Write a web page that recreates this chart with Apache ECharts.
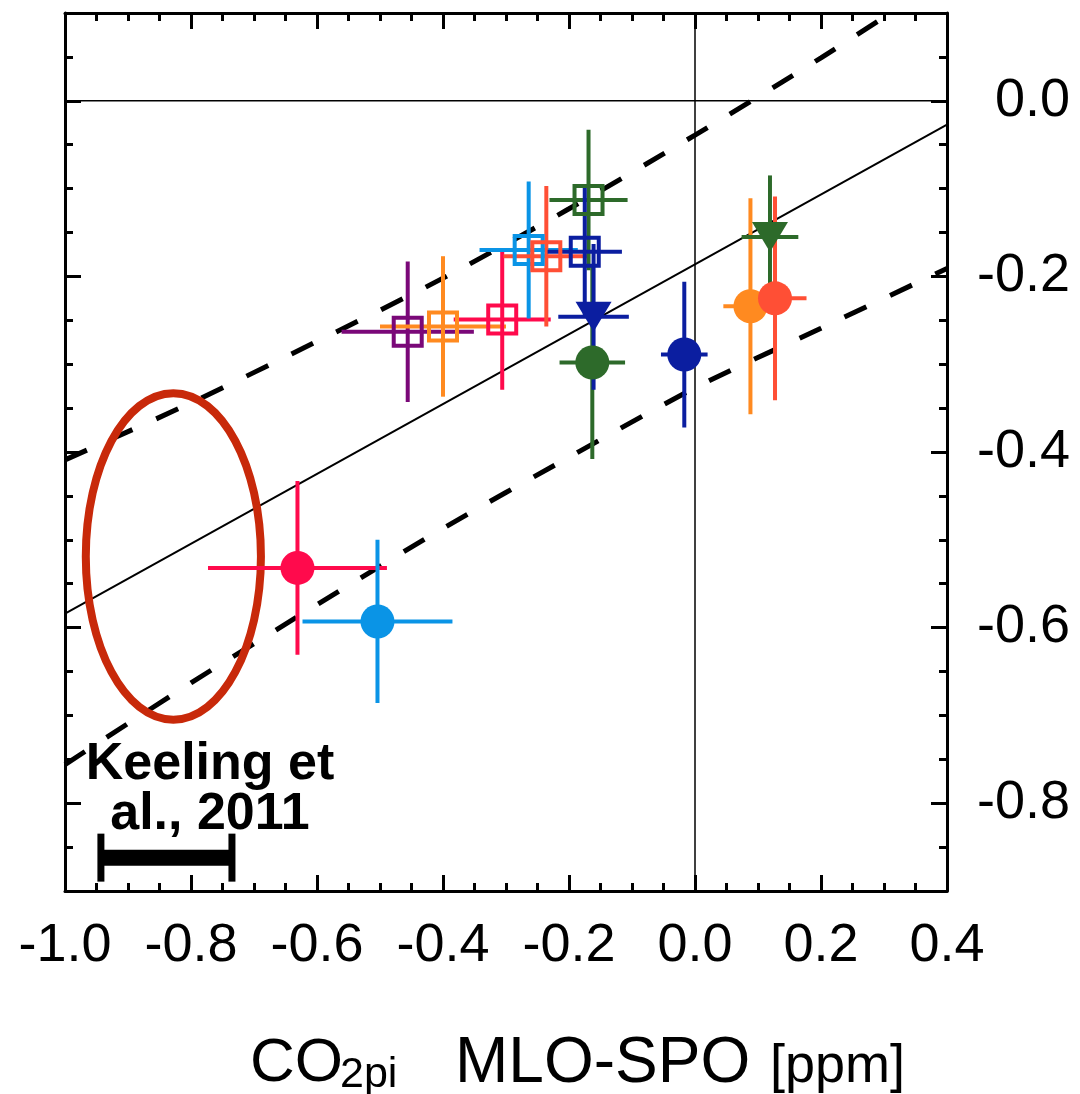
<!DOCTYPE html>
<html><head><meta charset="utf-8">
<script src="https://cdn.jsdelivr.net/npm/echarts@6/dist/echarts.min.js"></script>
<style>html,body{margin:0;padding:0;background:#fff}#c{width:1080px;height:1094px}</style>
</head><body><div id="c"></div>
<script>
// ---------------- data ----------------
const xMin = -1.0, xMax = 0.4, xStep = 0.2;
const yMin = -0.9, yMax = 0.1;
const yMajorTicks = [-0.8, -0.6, -0.4, -0.2, 0.0];
const yMinorTicks = [-0.85, -0.75, -0.7, -0.65, -0.55, -0.5, -0.45, -0.35, -0.3, -0.25, -0.15, -0.1, -0.05, 0.05];

// open squares
const sqX    = [-0.456, -0.400, -0.306, -0.264, -0.236, -0.169, -0.175];
const sqY    = [-0.263, -0.257, -0.249, -0.170, -0.177, -0.113, -0.172];
const sqXErr = [0.105, 0.100, 0.077, 0.078, 0.068, 0.062, 0.059];
const sqYErr = [0.080, 0.080, 0.080, 0.078, 0.080, 0.080, 0.074];
// filled circles
const ciX    = [-0.631, -0.504, -0.163, -0.017, 0.088, 0.127];
const ciY    = [-0.532, -0.593, -0.298, -0.289, -0.234, -0.225];
const ciXErr = [0.142, 0.119, 0.052, 0.037, 0.043, 0.050];
const ciYErr = [0.099, 0.093, 0.110, 0.083, 0.123, 0.116];
// filled down-triangles
const trX    = [-0.161, 0.119];
const trY    = [-0.246, -0.155];
const trXErr = [0.056, 0.045];
const trYErr = [0.083, 0.070];
// regression line and dashed band
const fitX = [-1.0, 0.4];
const fitY = [-0.584, -0.027];
const bandX     = [-1.0, -0.8, -0.6, -0.4, -0.2, 0.0, 0.2, 0.4];
const bandUpper = [-0.409, -0.344, -0.274, -0.202, -0.123, -0.039, 0.049, 0.142];
const bandLower = [-0.756, -0.663, -0.574, -0.487, -0.406, -0.327, -0.259, -0.191];
// reference zero lines
const zeroH = [[-1.0, 0.0], [0.4, 0.0]];
const zeroV = [[0.0, -0.9], [0.0, 0.1]];
// Keeling et al. 2011: ellipse [cx, cy, rx, ry], bar [x, y, half-width]
const keelingEllipse = [-0.828, -0.519, 0.139, 0.186];
const keelingBar = [-0.839, -0.862, 0.104];
const keelingText = 'Keeling et\nal., 2011';
const titleParts = ['CO', '2pi', 'MLO-SPO', '[ppm]'];

// ---------------- styles ----------------
const sqColors = ['#7a0878', '#ff8a20', '#ff0a4c', '#0a94e6', '#ff4f35', '#2d6a2a', '#0b1ea0'];
const ciColors = ['#ff0a4c', '#0a94e6', '#2d6a2a', '#0b1ea0', '#ff8a20', '#ff4f35'];
const trColors = ['#0b1ea0', '#2d6a2a'];
const FONT = '"Liberation Sans", Arial, Helvetica, sans-serif';

const errData = [];
sqX.forEach((v, i) => errData.push({value: [v, sqY[i], sqXErr[i], sqYErr[i]], itemStyle: {color: sqColors[i]}}));
ciX.forEach((v, i) => errData.push({value: [v, ciY[i], ciXErr[i], ciYErr[i]], itemStyle: {color: ciColors[i]}}));
trX.forEach((v, i) => errData.push({value: [v, trY[i], trXErr[i], trYErr[i]], itemStyle: {color: trColors[i]}}));

function errItem(params, api) {
  const x = api.value(0), y = api.value(1), ex = api.value(2), ey = api.value(3);
  const l = api.coord([x - ex, y]), r = api.coord([x + ex, y]);
  const t = api.coord([x, y + ey]), b = api.coord([x, y - ey]);
  const color = api.visual('color');
  return {type: 'group', children: [
    {type: 'line', shape: {x1: l[0], y1: l[1], x2: r[0], y2: r[1]}, style: {stroke: color, lineWidth: 4}},
    {type: 'line', shape: {x1: t[0], y1: t[1], x2: b[0], y2: b[1]}, style: {stroke: color, lineWidth: 4}}
  ]};
}

const chart = echarts.init(document.getElementById('c'), null, {renderer: 'canvas'});
const axLine = {show: true, onZero: false, lineStyle: {color: '#000', width: 3}};
const noLine = {show: false, onZero: false};
const xAxisBase = {
  type: 'value', min: xMin, max: xMax, interval: xStep,
  axisLine: axLine, splitLine: {show: false},
  axisTick: {show: true, inside: true, length: 16, lineStyle: {color: '#000', width: 3}},
  minorTick: {show: true, splitNumber: 4, length: 8, lineStyle: {color: '#000', width: 3}}
};
const yAxisBase = {type: 'value', min: yMin, max: yMax, splitLine: {show: false}};

function titleText(x, y, text, size) {
  return {type: 'text', x: x, y: y, z: 100, silent: true,
    style: {text: text, fill: '#000', fontSize: size, fontFamily: FONT, align: 'left', verticalAlign: 'middle'}};
}

chart.setOption({
  animation: false,
  grid: {left: 65, top: 13, width: 882, height: 878, containLabel: false},
  xAxis: [
    Object.assign({}, xAxisBase, {position: 'bottom',
      axisLabel: {show: true, fontSize: 54, fontFamily: FONT, color: '#000', margin: 28,
        formatter: v => v.toFixed(1), showMinLabel: true, showMaxLabel: true}}),
    Object.assign({}, xAxisBase, {position: 'top', axisLabel: {show: false}})
  ],
  yAxis: [
    Object.assign({}, yAxisBase, {position: 'right', axisLine: axLine,
      axisTick: {show: true, inside: true, length: 16, customValues: yMajorTicks, lineStyle: {color: '#000', width: 3}},
      axisLabel: {show: true, customValues: yMajorTicks, fontSize: 54, fontFamily: FONT, color: '#000',
        align: 'right', margin: 123, formatter: v => v.toFixed(1)}}),
    Object.assign({}, yAxisBase, {position: 'right', axisLine: noLine,
      axisTick: {show: true, inside: true, length: 8, customValues: yMinorTicks, lineStyle: {color: '#000', width: 3}},
      axisLabel: {show: false}}),
    Object.assign({}, yAxisBase, {position: 'left', axisLine: axLine,
      axisTick: {show: true, inside: true, length: 16, customValues: yMajorTicks, lineStyle: {color: '#000', width: 3}},
      axisLabel: {show: false}}),
    Object.assign({}, yAxisBase, {position: 'left', axisLine: noLine,
      axisTick: {show: true, inside: true, length: 8, customValues: yMinorTicks, lineStyle: {color: '#000', width: 3}},
      axisLabel: {show: false}})
  ],
  graphic: [
    {type: 'text', x: 210, y: 790, z: 100, silent: true, style: {text: keelingText, fill: '#000',
      fontSize: 52, fontWeight: 'bold', fontFamily: FONT,
      align: 'center', verticalAlign: 'middle', lineHeight: 50}},
    titleText(250, 1064, titleParts[0], 62),
    titleText(340, 1075, titleParts[1], 43),
    titleText(455, 1064, titleParts[2], 64),
    titleText(770, 1067, titleParts[3], 54)
  ],
  series: [
    {type: 'line', name: 'zeroH', data: zeroH, symbol: 'none', lineStyle: {color: '#000', width: 1.5}, z: 1, silent: true},
    {type: 'line', name: 'zeroV', data: zeroV, symbol: 'none', lineStyle: {color: '#000', width: 1.5}, z: 1, silent: true},
    {type: 'line', name: 'fit', data: fitX.map((v, i) => [v, fitY[i]]), symbol: 'none', clip: true,
      lineStyle: {color: '#000', width: 2}, z: 1, silent: true},
    {type: 'line', name: 'upper', data: bandX.map((v, i) => [v, bandUpper[i]]), symbol: 'none', clip: true, smooth: 0.3,
      lineStyle: {color: '#000', width: 5, type: [24, 26]}, z: 1, silent: true},
    {type: 'line', name: 'lower', data: bandX.map((v, i) => [v, bandLower[i]]), symbol: 'none', clip: true, smooth: 0.3,
      lineStyle: {color: '#000', width: 5, type: [24, 26]}, z: 1, silent: true},
    {type: 'custom', name: 'ellipse', data: [keelingEllipse], clip: true, z: 2, silent: true,
      renderItem: (params, api) => {
        const c = api.coord([api.value(0), api.value(1)]);
        const s = api.size([api.value(2), api.value(3)]);
        return {type: 'ellipse', shape: {cx: c[0], cy: c[1], rx: s[0], ry: s[1]},
          style: {fill: 'none', stroke: '#c8290a', lineWidth: 8}};
      }},
    {type: 'custom', name: 'keelingBar', data: [keelingBar], z: 3, silent: true,
      renderItem: (params, api) => {
        const x = api.value(0), y = api.value(1), e = api.value(2);
        const l = api.coord([x - e, y]), r = api.coord([x + e, y]);
        return {type: 'group', children: [
          {type: 'line', shape: {x1: l[0], y1: l[1], x2: r[0], y2: r[1]}, style: {stroke: '#000', lineWidth: 16}},
          {type: 'line', shape: {x1: l[0], y1: l[1] - 24, x2: l[0], y2: l[1] + 24}, style: {stroke: '#000', lineWidth: 7}},
          {type: 'line', shape: {x1: r[0], y1: r[1] - 24, x2: r[0], y2: r[1] + 24}, style: {stroke: '#000', lineWidth: 7}}
        ]};
      }},
    {type: 'custom', name: 'errorbars', data: errData, renderItem: errItem, clip: true, z: 4, silent: true,
      encode: {x: 0, y: 1}},
    {type: 'scatter', name: 'squares', symbol: 'rect', symbolSize: 28, z: 5, silent: true,
      data: sqX.map((v, i) => ({value: [v, sqY[i]],
        itemStyle: {color: 'rgba(0,0,0,0)', borderColor: sqColors[i], borderWidth: 4, opacity: 1}}))},
    {type: 'scatter', name: 'circles', symbol: 'circle', symbolSize: 34, z: 5, silent: true,
      data: ciX.map((v, i) => ({value: [v, ciY[i]], itemStyle: {color: ciColors[i], opacity: 1}}))},
    {type: 'scatter', name: 'triangles', symbol: 'triangle', symbolRotate: 180, symbolSize: [36, 30], z: 5, silent: true,
      data: trX.map((v, i) => ({value: [v, trY[i]], itemStyle: {color: trColors[i], opacity: 1}}))}
  ]
});
</script>
</body></html>
